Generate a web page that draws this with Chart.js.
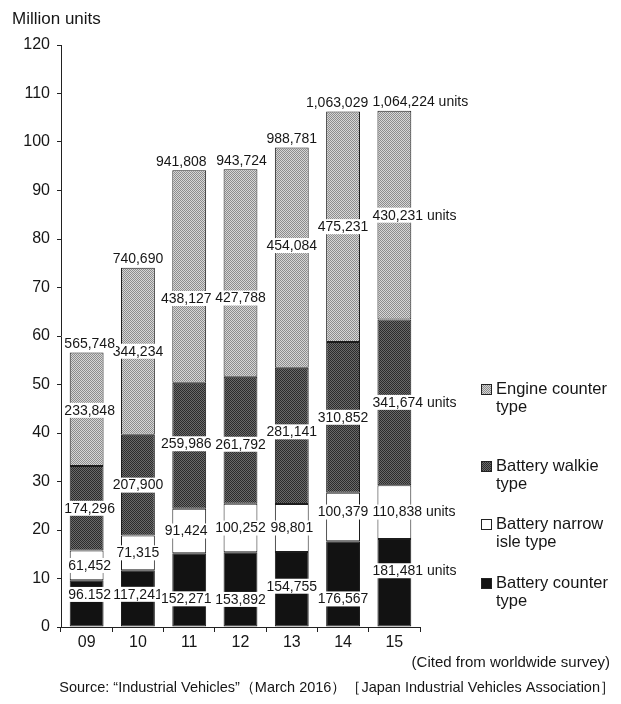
<!DOCTYPE html>
<html>
<head>
<meta charset="utf-8">
<script src="https://cdn.jsdelivr.net/npm/chart.js@4.4.1/dist/chart.umd.min.js"></script>
<style>
  html, body { margin: 0; padding: 0; background: #fff; }
  #wrap { position: relative; width: 621px; height: 704px; }
</style>
</head>
<body>
<div id="wrap"><canvas id="c" width="621" height="704"></canvas></div>
<script>
// Worldwide forklift truck orders by type (units)
const years = ['09', '10', '11', '12', '13', '14', '15'];
const batteryCounter    = [96152, 117241, 152271, 153892, 154755, 176567, 181481];
const batteryNarrowIsle = [61452, 71315, 91424, 100252, 98801, 100379, 110838];
const batteryWalkie     = [174296, 207900, 259986, 261792, 281141, 310852, 341674];
const engineCounter     = [233848, 344234, 438127, 427788, 454084, 475231, 430231];
const totals            = [565748, 740690, 941808, 943724, 988781, 1063029, 1064224];
const yTicks = [0, 10, 20, 30, 40, 50, 60, 70, 80, 90, 100, 110, 120];
const seriesNames = [
  ['Battery counter', 'type'],
  ['Battery narrow', 'isle type'],
  ['Battery walkie', 'type'],
  ['Engine counter', 'type']
];

// axis is drawn in units of ten thousand
const SCALE = 10000;
const FONT = '"Liberation Sans", Arial, Helvetica, sans-serif';
const INK = '#161616';

// vertical nudges (px) for value labels that would otherwise collide, per series then year
const labelNudge = [
  [-9, -4, 9, 10, -3, 15, -12],
  [0, 0, 0, 0, 0, -5, 0],
  [0, 0, -2, 4, -4, 0, 0],
  [1, 0, 22, 25, -12, 0, 0]
];
// horizontal nudges (px) per year for segment labels and for totals
const labelShiftX = [3, 0, -3, 0, 0, 0, 0];
const totalShiftX = [3, 0, -8, 1, 0, -6, 0];

// halftone-like fills
function checker(a, b) {
  const c = document.createElement('canvas');
  c.width = 2; c.height = 2;
  const g = c.getContext('2d');
  g.fillStyle = a; g.fillRect(0, 0, 2, 2);
  g.fillStyle = b; g.fillRect(0, 0, 1, 1); g.fillRect(1, 1, 1, 1);
  return g.createPattern(c, 'repeat');
}
const ctx0 = document.getElementById('c').getContext('2d');
const fills = ['#121212', '#ffffff', checker('#6a6a6a', '#2c2c2c'), checker('#d6d6d6', '#8c8c8c')];
const series = [batteryCounter, batteryNarrowIsle, batteryWalkie, engineCounter];

function fmt(v) {
  return v.toString().replace(/\B(?=(\d{3})+(?!\d))/g, ',');
}
// as printed on the 2009 battery counter figure
const printed = { '0-0': '96.152' };

const labelsPlugin = {
  id: 'valueLabels',
  afterDatasetsDraw(chart) {
    const ctx = chart.ctx;
    ctx.save();
    ctx.font = '14px ' + FONT;
    ctx.textBaseline = 'middle';
    const last = years.length - 1;
    const drawLabel = (text, x, y, leftAligned) => {
      const w = ctx.measureText(text).width;
      const left = leftAligned ? x : x - w / 2;
      ctx.fillStyle = '#fff';
      ctx.fillRect(left - 1, y - 7.5, w + 2, 15);
      ctx.fillStyle = INK;
      ctx.textAlign = 'left';
      ctx.fillText(text, left, y + 0.5);
    };
    series.forEach((vals, d) => {
      const meta = chart.getDatasetMeta(d);
      meta.data.forEach((el, i) => {
        const p = el.getProps(['x', 'y', 'base', 'width'], true);
        const mid = (p.y + p.base) / 2 + labelNudge[d][i];
        const text = printed[d + '-' + i] || fmt(vals[i]);
        if (i === last) {
          drawLabel(text + ' units', p.x - p.width / 2 - 5, mid, true);
        } else {
          drawLabel(text, p.x + labelShiftX[i], mid, false);
        }
      });
    });
    // totals above each bar
    const yScale = chart.scales.y;
    const topMeta = chart.getDatasetMeta(series.length - 1);
    totals.forEach((t, i) => {
      const p = topMeta.data[i].getProps(['x', 'width'], true);
      const y = yScale.getPixelForValue(t / SCALE) - 9;
      if (i === last) drawLabel(fmt(t) + ' units', p.x - p.width / 2 - 5, y, true);
      else drawLabel(fmt(t), p.x + totalShiftX[i], y, false);
    });
    ctx.restore();
  }
};

const decorPlugin = {
  id: 'decor',
  afterDraw(chart) {
    const ctx = chart.ctx;
    ctx.save();
    ctx.fillStyle = INK;
    ctx.textBaseline = 'middle';
    // axis unit
    ctx.font = '17px ' + FONT;
    ctx.textAlign = 'left';
    ctx.fillText('Million units', 12, 19);
    // legend, top of stack first
    const rows = [389, 466, 524, 583];
    ctx.font = '16.5px ' + FONT;
    for (let k = 0; k < series.length; k++) {
      const d = series.length - 1 - k;
      const y = rows[k];
      ctx.fillStyle = fills[d];
      ctx.fillRect(481, y - 5, 10, 10);
      ctx.strokeStyle = '#222';
      ctx.lineWidth = 1;
      ctx.strokeRect(481.5, y - 4.5, 10, 10);
      ctx.fillStyle = INK;
      ctx.fillText(seriesNames[d][0], 496, y);
      ctx.fillText(seriesNames[d][1], 496, y + 18);
    }
    // notes
    ctx.font = '15px ' + FONT;
    ctx.textAlign = 'right';
    ctx.fillText('(Cited from worldwide survey)', 610, 663);
    ctx.font = '14.5px ' + FONT;
    ctx.fillText('Source: \u201cIndustrial Vehicles\u201d\uFF08March 2016\uFF09\uFF3BJapan Industrial Vehicles Association\uFF3D', 615, 688);
    ctx.restore();
  }
};

new Chart(ctx0, {
  type: 'bar',
  data: {
    labels: years,
    datasets: series.map((vals, d) => ({
      label: seriesNames[d].join(' '),
      data: vals.map(v => v / SCALE),
      backgroundColor: fills[d],
      borderColor: '#1c1c1c',
      borderWidth: 1,
      borderSkipped: false,
      categoryPercentage: 0.66,
      barPercentage: 1
    }))
  },
  options: {
    responsive: false,
    animation: false,
    layout: { padding: { left: 0, right: 201, top: 45, bottom: 0 } },
    plugins: { legend: { display: false }, tooltip: { enabled: false } },
    scales: {
      x: {
        stacked: true,
        grid: { drawOnChartArea: false, drawTicks: true, tickLength: 5, color: '#222', offset: true },
        border: { color: '#222', width: 1 },
        ticks: { color: INK, font: { family: FONT, size: 16 }, padding: 1 },
        afterFit(s) { s.height = 77; }
      },
      y: {
        stacked: true,
        min: 0,
        max: 120,
        afterBuildTicks(s) { s.ticks = yTicks.map(v => ({ value: v })); },
        grid: { drawOnChartArea: false, drawTicks: true, tickLength: 4, color: '#222' },
        border: { color: '#222', width: 1 },
        ticks: { color: INK, font: { family: FONT, size: 16 }, padding: 7 },
        afterFit(s) { s.width = 61; }
      }
    }
  },
  plugins: [labelsPlugin, decorPlugin]
});
</script>
</body>
</html>
